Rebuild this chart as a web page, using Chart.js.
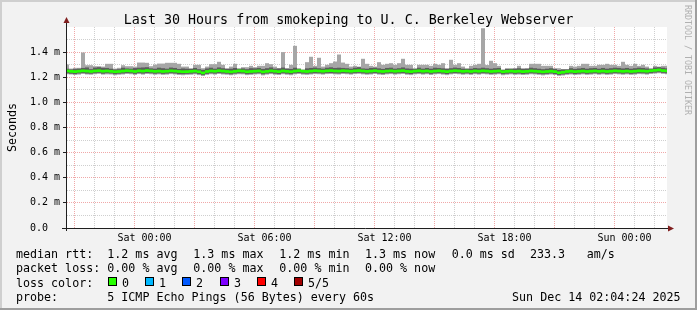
<!DOCTYPE html>
<html><head><meta charset="utf-8">
<script src="https://cdn.jsdelivr.net/npm/chart.js@4.4.1/dist/chart.umd.min.js"></script>
<style>html,body{margin:0;padding:0;background:#f2f2f2;}canvas{display:block;}</style>
</head><body>
<canvas id="c" width="697" height="310"></canvas>
<script>
// ---- time grid (hours relative to Sat 00:00) ----
const START_HOUR = -3.875;   // first 12-minute sample
const STEP_HOUR = 0.2;       // 12 minutes per sample
const X_MIN = -3.875, X_MAX = 26.125;

// ---- smoke series, ms (5 pings sorted: min, 2nd, median, 4th, max) ----
const smokeMax = [
1.301,1.269,1.275,1.275,1.397,1.296,1.296,1.288,1.288,1.285,
1.307,1.307,1.269,1.275,1.296,1.288,1.288,1.285,1.317,1.317,
1.315,1.288,1.301,1.309,1.309,1.315,1.315,1.315,1.307,1.285,
1.285,1.272,1.299,1.299,1.272,1.285,1.304,1.304,1.323,1.299,
1.272,1.285,1.307,1.272,1.280,1.280,1.291,1.280,1.291,1.291,
1.312,1.304,1.285,1.272,1.400,1.272,1.299,1.450,1.272,1.262,
1.320,1.363,1.291,1.355,1.285,1.299,1.312,1.325,1.381,1.317,
1.307,1.285,1.291,1.285,1.347,1.307,1.291,1.285,1.320,1.299,
1.307,1.312,1.299,1.312,1.347,1.299,1.299,1.272,1.299,1.299,
1.299,1.291,1.307,1.299,1.312,1.272,1.339,1.299,1.312,1.285,
1.272,1.291,1.299,1.307,1.590,1.297,1.331,1.312,1.291,1.262,
1.272,1.272,1.272,1.291,1.272,1.272,1.307,1.307,1.307,1.291,
1.291,1.291,1.272,1.272,1.265,1.265,1.291,1.285,1.291,1.307,
1.307,1.291,1.291,1.299,1.299,1.307,1.299,1.299,1.291,1.323,
1.299,1.291,1.307,1.291,1.299,1.285,1.272,1.291,1.285,1.291,1.291];
const smokeHi = [
1.268,1.262,1.265,1.268,1.274,1.278,1.264,1.277,1.280,1.275,
1.274,1.268,1.262,1.264,1.276,1.270,1.268,1.273,1.276,1.278,
1.280,1.271,1.268,1.276,1.272,1.268,1.277,1.274,1.266,1.270,
1.268,1.266,1.274,1.264,1.259,1.270,1.276,1.268,1.278,1.272,
1.266,1.268,1.274,1.266,1.270,1.264,1.272,1.271,1.274,1.266,
1.272,1.278,1.268,1.270,1.277,1.268,1.266,1.276,1.266,1.258,
1.271,1.274,1.277,1.272,1.268,1.276,1.279,1.274,1.276,1.274,
1.272,1.268,1.276,1.280,1.270,1.268,1.274,1.276,1.271,1.266,
1.274,1.276,1.268,1.272,1.278,1.270,1.268,1.266,1.276,1.268,
1.274,1.268,1.276,1.274,1.271,1.266,1.272,1.277,1.274,1.268,
1.266,1.268,1.274,1.271,1.276,1.272,1.268,1.272,1.274,1.258,
1.266,1.266,1.268,1.272,1.266,1.268,1.276,1.272,1.268,1.264,
1.268,1.272,1.266,1.258,1.262,1.262,1.272,1.266,1.270,1.274,
1.268,1.272,1.274,1.268,1.274,1.268,1.272,1.276,1.274,1.270,
1.274,1.268,1.272,1.276,1.274,1.270,1.266,1.278,1.280,1.276,1.272];
const median = [
1.250,1.247,1.245,1.248,1.251,1.249,1.246,1.250,1.252,1.248,
1.250,1.247,1.244,1.246,1.249,1.252,1.250,1.246,1.251,1.249,
1.253,1.250,1.247,1.249,1.246,1.248,1.251,1.249,1.246,1.244,
1.245,1.247,1.249,1.244,1.235,1.246,1.250,1.248,1.252,1.249,
1.246,1.243,1.247,1.251,1.249,1.244,1.246,1.248,1.250,1.243,
1.247,1.251,1.248,1.245,1.250,1.247,1.244,1.249,1.252,1.248,
1.246,1.249,1.252,1.250,1.248,1.251,1.253,1.250,1.249,1.252,
1.250,1.248,1.251,1.253,1.250,1.247,1.249,1.252,1.248,1.246,
1.249,1.251,1.248,1.250,1.252,1.247,1.245,1.249,1.251,1.248,
1.250,1.246,1.249,1.251,1.248,1.245,1.249,1.252,1.250,1.247,
1.249,1.246,1.250,1.248,1.251,1.249,1.246,1.248,1.250,1.244,
1.247,1.249,1.246,1.248,1.245,1.247,1.250,1.248,1.246,1.243,
1.246,1.248,1.245,1.236,1.240,1.246,1.248,1.245,1.247,1.249,
1.246,1.248,1.250,1.247,1.249,1.246,1.248,1.251,1.249,1.247,
1.249,1.246,1.248,1.251,1.250,1.248,1.252,1.255,1.258,1.253,1.250];
const smokeLo = [
1.232,1.228,1.226,1.230,1.234,1.229,1.228,1.232,1.235,1.228,
1.232,1.230,1.225,1.228,1.230,1.234,1.232,1.227,1.233,1.229,
1.234,1.232,1.228,1.231,1.227,1.229,1.233,1.230,1.226,1.225,
1.227,1.228,1.231,1.225,1.217,1.227,1.232,1.229,1.234,1.230,
1.228,1.224,1.229,1.232,1.231,1.225,1.227,1.230,1.232,1.224,
1.229,1.233,1.228,1.226,1.232,1.228,1.225,1.231,1.234,1.229,
1.228,1.230,1.233,1.232,1.229,1.233,1.234,1.231,1.230,1.234,
1.232,1.229,1.233,1.235,1.231,1.228,1.230,1.234,1.229,1.227,
1.231,1.233,1.229,1.232,1.234,1.228,1.226,1.231,1.233,1.229,
1.232,1.227,1.231,1.233,1.229,1.226,1.231,1.234,1.232,1.228,
1.231,1.227,1.232,1.229,1.233,1.231,1.227,1.229,1.232,1.225,
1.228,1.231,1.227,1.229,1.226,1.228,1.232,1.230,1.227,1.224,
1.227,1.230,1.226,1.218,1.222,1.227,1.230,1.226,1.228,1.231,
1.227,1.229,1.232,1.228,1.231,1.227,1.229,1.233,1.231,1.228,
1.231,1.227,1.229,1.233,1.232,1.229,1.234,1.237,1.240,1.235,1.232];
const smokeMin = [
1.224,1.222,1.218,1.221,1.226,1.222,1.220,1.224,1.227,1.221,
1.223,1.222,1.216,1.220,1.222,1.226,1.224,1.219,1.225,1.221,
1.226,1.224,1.220,1.223,1.219,1.221,1.225,1.222,1.218,1.216,
1.219,1.220,1.223,1.217,1.211,1.219,1.224,1.221,1.226,1.222,
1.220,1.216,1.221,1.224,1.223,1.217,1.219,1.222,1.224,1.215,
1.221,1.225,1.220,1.218,1.224,1.220,1.216,1.223,1.226,1.221,
1.219,1.222,1.225,1.224,1.221,1.225,1.226,1.223,1.222,1.226,
1.224,1.221,1.225,1.227,1.223,1.220,1.222,1.226,1.221,1.218,
1.223,1.225,1.221,1.224,1.226,1.220,1.217,1.223,1.225,1.221,
1.224,1.218,1.223,1.225,1.221,1.217,1.223,1.226,1.224,1.220,
1.223,1.219,1.224,1.221,1.225,1.223,1.219,1.221,1.224,1.216,
1.220,1.223,1.219,1.221,1.218,1.220,1.224,1.222,1.219,1.215,
1.219,1.222,1.218,1.211,1.214,1.219,1.222,1.218,1.220,1.223,
1.219,1.221,1.224,1.220,1.223,1.219,1.221,1.225,1.223,1.220,
1.223,1.219,1.221,1.225,1.224,1.221,1.226,1.229,1.232,1.227,1.224];

// ---- axes ----
const xTickHours = [-3,-2,-1,0,1,2,3,4,5,6,7,8,9,10,11,12,13,14,15,16,17,18,19,20,21,22,23,24,25,26];
const xLabelHours = [0,6,12,18,24];
const xLabels = ['Sat 00:00','Sat 06:00','Sat 12:00','Sat 18:00','Sun 00:00'];
const yTicks = [0,0.1,0.2,0.3,0.4,0.5,0.6,0.7,0.8,0.9,1.0,1.1,1.2,1.3,1.4,1.5,1.6];
const yLabelVals = [0,0.2,0.4,0.6,0.8,1.0,1.2,1.4];
const yLabels = ['0.0  ','0.2 m','0.4 m','0.6 m','0.8 m','1.0 m','1.2 m','1.4 m'];

// ---- texts ----
const titleText = 'Last 30 Hours from smokeping to U. C. Berkeley Webserver';
const yTitle = 'Seconds';
const watermark = 'RRDTOOL / TOBI OETIKER';
const rttLabel = 'median rtt:';
const rttItems = ['1.2 ms avg','1.3 ms max','1.2 ms min','1.3 ms now','0.0 ms sd','233.3','am/s'];
const lossLabel = 'packet loss:';
const lossItems = ['0.00 % avg','0.00 % max','0.00 % min','0.00 % now'];
const lossColorLabel = 'loss color:';
const lossNames = ['0','1','2','3','4','5/5'];
const lossColors = ['#26ff00','#00b8ff','#0059ff','#7e00ff','#ff0000','#a10000'];
const probeLabel = 'probe:';
const probeText = '5 ICMP Echo Pings (56 Bytes) every 60s';
const stampText = 'Sun Dec 14 02:04:24 2025';

const MONO = '"DejaVu Sans Mono", "Liberation Mono", monospace';
const BAND = 0.011; // half thickness of median band (ms)

const times = median.map((_, j) => START_HOUR + STEP_HOUR * j);
const pair = (lo, hi) => times.map((t, j) => ({x: t, y: [lo[j], hi[j]]}));
const medBand = times.map((t, j) => ({x: t, y: [median[j] - BAND, median[j] + BAND]}));

const barCommon = {grouped: false, barPercentage: 1, categoryPercentage: 1, borderWidth: 0, inflateAmount: 0};

const deco = {
  id: 'deco',
  beforeDraw(chart) {
    const ctx = chart.ctx, a = chart.chartArea;
    ctx.save();
    ctx.fillStyle = '#f2f2f2'; ctx.fillRect(0, 0, 697, 310);
    ctx.fillStyle = '#cfcfcf'; ctx.fillRect(0, 0, 697, 2); ctx.fillRect(0, 0, 2, 310);
    ctx.fillStyle = '#9e9e9e'; ctx.fillRect(0, 308, 697, 2); ctx.fillRect(695, 0, 2, 310);
    ctx.fillStyle = '#ffffff'; ctx.fillRect(a.left, a.top, a.right - a.left, a.bottom - a.top);
    ctx.restore();
  },
  afterDraw(chart) {
    const ctx = chart.ctx, a = chart.chartArea;
    ctx.save();
    // axes
    ctx.strokeStyle = '#1f1f1f'; ctx.lineWidth = 1;
    ctx.beginPath();
    ctx.moveTo(a.left - 0.5, a.bottom + 3); ctx.lineTo(a.left - 0.5, a.top - 4);
    ctx.moveTo(a.left - 5, a.bottom + 0.5); ctx.lineTo(a.right + 2, a.bottom + 0.5);
    ctx.stroke();
    ctx.fillStyle = '#801f1f';
    ctx.beginPath();
    ctx.moveTo(a.left - 0.5, a.top - 10); ctx.lineTo(a.left - 3.5, a.top - 4); ctx.lineTo(a.left + 2.5, a.top - 4); ctx.closePath(); ctx.fill();
    ctx.beginPath();
    ctx.moveTo(a.right + 7, a.bottom + 0.5); ctx.lineTo(a.right + 1, a.bottom - 2.5); ctx.lineTo(a.right + 1, a.bottom + 3.5); ctx.closePath(); ctx.fill();

    ctx.fillStyle = '#000';
    // title
    ctx.font = '13.33px ' + MONO; ctx.textAlign = 'center'; ctx.textBaseline = 'alphabetic';
    ctx.fillText(titleText, 348.5, 24);
    // y title
    ctx.save(); ctx.font = '11.66px ' + MONO; ctx.translate(15.5, 127.5); ctx.rotate(-Math.PI / 2);
    ctx.fillText(yTitle, 0, 0); ctx.restore();
    // watermark
    ctx.save(); ctx.font = '8.3px ' + MONO; ctx.fillStyle = '#b0b0b0'; ctx.textAlign = 'left';
    ctx.translate(684.5, 5); ctx.rotate(Math.PI / 2); ctx.fillText(watermark, 0, 0); ctx.restore();

    // legend
    ctx.font = '11.66px ' + MONO; ctx.textAlign = 'left';
    const col = [107.3, 193.3, 279.3, 365, 451.7, 530, 586.7];
    ctx.fillText(rttLabel, 16, 258);
    rttItems.forEach((s, i) => ctx.fillText(s, col[i], 258));
    ctx.fillText(lossLabel, 16, 272);
    lossItems.forEach((s, i) => ctx.fillText(s, col[i], 272));
    ctx.fillText(lossColorLabel, 16, 286.5);
    lossNames.forEach((s, i) => {
      const bx = 108 + Math.round(i * 37.2);
      ctx.fillStyle = lossColors[i]; ctx.fillRect(bx, 277, 9, 9);
      ctx.strokeStyle = '#000'; ctx.strokeRect(bx + 0.5, 277.5, 8, 8);
      ctx.fillStyle = '#000'; ctx.fillText(s, bx + 14, 286.5);
    });
    ctx.fillText(probeLabel, 16, 301);
    ctx.fillText(probeText, 107.3, 301);
    ctx.textAlign = 'right';
    ctx.fillText(stampText, 680.5, 301);
    ctx.restore();
  }
};

const isMajorY = v => Math.round(v * 10) % 2 === 0;

new Chart(document.getElementById('c'), {
  type: 'bar',
  data: {
    datasets: [
      Object.assign({data: pair(smokeMin, smokeMax), backgroundColor: '#a6a6a6', order: 3}, barCommon),
      Object.assign({data: pair(smokeLo, smokeHi), backgroundColor: '#5c5c5c', order: 2}, barCommon),
      Object.assign({data: medBand, backgroundColor: '#26ff00', order: 1}, barCommon)
    ]
  },
  options: {
    responsive: false, animation: false, devicePixelRatio: 1,
    layout: {padding: {top: 27, right: 30, left: 0, bottom: 0}},
    plugins: {legend: {display: false}, tooltip: {enabled: false}, title: {display: false}},
    scales: {
      x: {
        type: 'linear', min: X_MIN, max: X_MAX, offset: false,
        afterBuildTicks: s => { s.ticks = xTickHours.map(v => ({value: v})); },
        afterFit: s => { s.height = 82; },
        ticks: {
          autoSkip: false, maxRotation: 0, padding: 4, color: '#000',
          font: {family: MONO, size: 10},
          callback: v => { const i = xLabelHours.indexOf(v); return i >= 0 ? xLabels[i] : ''; }
        },
        grid: {
          drawTicks: false,
          color: c => (c.tick && ((c.tick.value % 3) + 3) % 3 === 0) ? '#f0a8a8' : '#cfcfcf'
        },
        border: {display: false, dash: [1, 1]}
      },
      y: {
        type: 'linear', min: 0, max: 1.6,
        afterBuildTicks: s => { s.ticks = yTicks.map(v => ({value: v})); },
        afterFit: s => { s.width = 67; },
        ticks: {
          autoSkip: false, padding: 3, color: '#000',
          font: {family: MONO, size: 10},
          callback: v => { const i = yLabelVals.findIndex(u => Math.abs(u - v) < 1e-6); return i >= 0 ? yLabels[i] : ''; }
        },
        grid: {
          tickLength: 4,
          tickColor: c => (c.tick && isMajorY(c.tick.value) && c.tick.value < 1.55) ? '#1f1f1f' : 'rgba(0,0,0,0)',
          color: c => {
            if (!c.tick) return 'rgba(0,0,0,0)';
            const v = c.tick.value;
            if (v > 1.55 || v < 0.05) return 'rgba(0,0,0,0)';
            return isMajorY(v) ? '#f0a8a8' : '#cfcfcf';
          }
        },
        border: {display: false, dash: [1, 1]}
      }
    }
  },
  plugins: [deco]
});
</script>
</body></html>
